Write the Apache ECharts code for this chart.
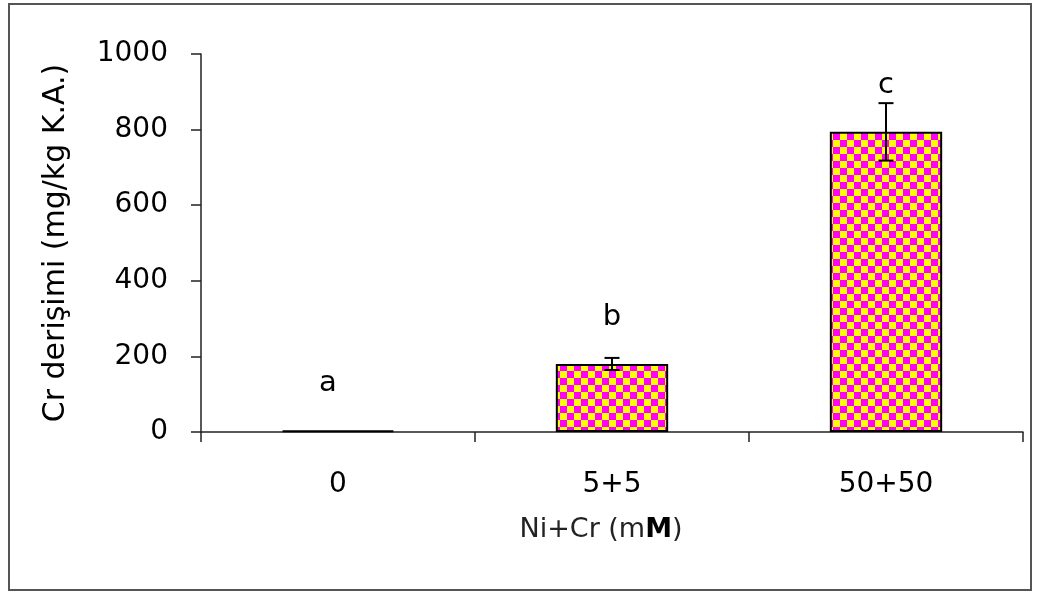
<!DOCTYPE html>
<html>
<head>
<meta charset="utf-8">
<script src="https://cdn.jsdelivr.net/npm/echarts@6/dist/echarts.min.js"></script>
<style>
html,body{margin:0;padding:0;background:#fff;}
#c{width:1040px;height:595px;}
</style>
</head>
<body>
<div id="c"></div>
<script>
var categories = ['0', '5+5', '50+50'];
var values = [4, 180, 794];
var errors = [0, 16, 76];
var letters = ['a', 'b', 'c'];
var yTicks = [0, 200, 400, 600, 800, 1000];

var FONT = 'DejaVu Sans';

function checker(size) {
  var cv = document.createElement('canvas');
  cv.width = size * 2; cv.height = size * 2;
  var ctx = cv.getContext('2d');
  ctx.fillStyle = '#FFFF00';
  ctx.fillRect(0, 0, size * 2, size * 2);
  ctx.fillStyle = '#FF00FF';
  ctx.fillRect(0, 0, size, size);
  ctx.fillRect(size, size, size, size);
  return cv;
}

var chart = echarts.init(document.getElementById('c'), null, {renderer: 'canvas'});

var barData = values.map(function (v, i) {
  var d = {
    value: v,
    label: {
      show: true,
      formatter: letters[i],
      position: 'top',
      distance: 32,
      fontSize: 29,
      fontFamily: FONT,
      color: '#000'
    }
  };
  if (i === 0) d.label.offset = [-10, 0];
  return d;
});

var errData = values.map(function (v, i) { return [i, v - errors[i], v + errors[i]]; });

chart.setOption({
  animation: false,
  graphic: [{
    type: 'rect',
    shape: {x: 9, y: 4, width: 1022, height: 586},
    style: {fill: 'none', stroke: '#555', lineWidth: 2},
    z: -1
  }],
  grid: {left: 201, right: 17, top: 54, bottom: 163},
  xAxis: {
    type: 'category',
    data: categories,
    boundaryGap: true,
    name: '{n|Ni+Cr (m}{b|M}{n|)}',
    nameLocation: 'middle',
    nameGap: 84,
    nameTextStyle: {
      padding: [0, 22, 0, 0],
      rich: {
        n: {fontSize: 27, fontFamily: FONT, color: '#222'},
        b: {fontSize: 27, fontFamily: FONT, fontWeight: 'bold', color: '#000'}
      }
    },
    axisLine: {lineStyle: {color: '#222', width: 1.5}},
    axisTick: {show: true, alignWithLabel: false, length: 10, lineStyle: {color: '#222', width: 1.5}},
    axisLabel: {fontSize: 28, fontFamily: FONT, color: '#000', margin: 39},
    splitLine: {show: false}
  },
  yAxis: {
    type: 'value',
    min: 0,
    max: 1000,
    interval: 200,
    name: 'Cr derişimi (mg/kg K.A.)',
    nameLocation: 'middle',
    nameGap: 130,
    nameRotate: 90,
    nameTextStyle: {fontSize: 30, fontFamily: FONT, color: '#000'},
    axisLine: {show: true, lineStyle: {color: '#222', width: 1.5}},
    axisTick: {show: true, inside: false, length: 10, lineStyle: {color: '#222', width: 1.5}},
    axisLabel: {
      fontSize: 28, fontFamily: FONT, color: '#000', margin: 33,
      formatter: function (v) { return yTicks.indexOf(v) >= 0 ? String(v) : ''; }
    },
    splitLine: {show: false}
  },
  series: [{
    type: 'bar',
    data: barData,
    barWidth: '41%',
    itemStyle: {
      color: {image: checker(7), repeat: 'repeat'},
      borderColor: '#000',
      borderWidth: 2
    },
    z: 2
  }, {
    type: 'custom',
    data: errData,
    z: 3,
    renderItem: function (params, api) {
      var x = api.value(0);
      var lo = api.coord([x, api.value(1)]);
      var hi = api.coord([x, api.value(2)]);
      if (Math.abs(lo[1] - hi[1]) < 1) return null;
      var hw = 7.5;
      var st = {stroke: '#000', lineWidth: 2};
      return {
        type: 'group',
        children: [
          {type: 'line', shape: {x1: hi[0], y1: hi[1], x2: lo[0], y2: lo[1]}, style: st},
          {type: 'line', shape: {x1: hi[0] - hw, y1: hi[1], x2: hi[0] + hw, y2: hi[1]}, style: st},
          {type: 'line', shape: {x1: lo[0] - hw, y1: lo[1], x2: lo[0] + hw, y2: lo[1]}, style: st}
        ]
      };
    }
  }]
});
</script>
</body>
</html>
